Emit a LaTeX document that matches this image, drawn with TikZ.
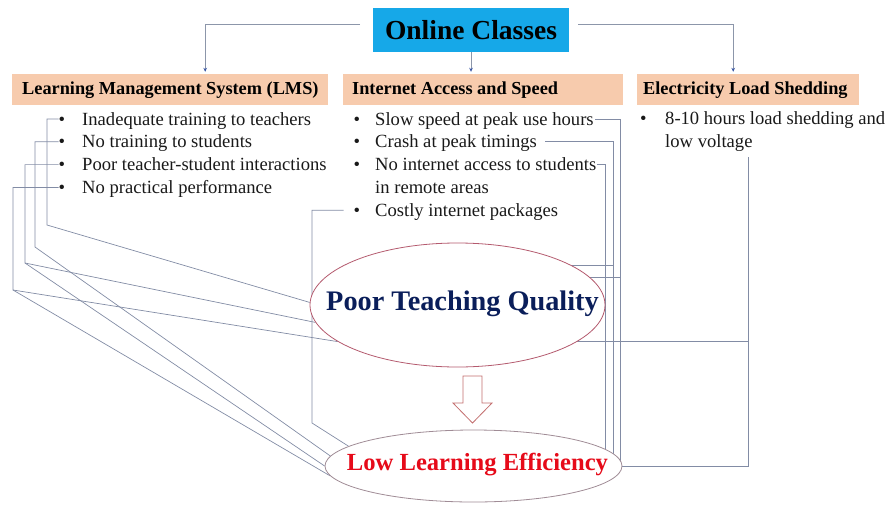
\documentclass[tikz,border=0pt]{standalone}
\usepackage{fontspec}
\setmainfont{Liberation Serif}
\usetikzlibrary{arrows.meta,backgrounds,shapes.geometric}
\definecolor{ocblue}{RGB}{22,168,232}
\definecolor{peach}{RGB}{247,203,173}
\definecolor{connc}{RGB}{130,140,165}
\definecolor{topc}{RGB}{140,150,170}
\definecolor{tipblue}{RGB}{55,85,165}
\definecolor{navytxt}{RGB}{10,30,90}
\definecolor{redtxt}{RGB}{230,10,25}
\definecolor{ptqc}{RGB}{180,90,110}
\definecolor{llec}{RGB}{160,140,150}
\definecolor{arrc}{RGB}{195,110,110}
\definecolor{bodytxt}{RGB}{25,25,25}
\begin{document}
\begin{tikzpicture}[x=1pt,y=-1pt,
  hdr/.style={fill=peach, anchor=west, minimum height=31pt, inner sep=0pt},
  hdrtxt/.style={anchor=west, inner sep=0pt, text height=12.5pt, text depth=2pt,
    font=\fontsize{18.3}{22}\selectfont\bfseries, text=black},
  bul/.style={inner sep=0pt, text height=12pt, text depth=0pt, font=\fontsize{18.6}{22}\selectfont, text=bodytxt},
  item/.style={bul, anchor=west},
  link/.style={draw=connc, line width=0.7pt},
  toplink/.style={draw=topc, line width=0.8pt, -{Stealth[length=4pt,width=3.6pt,color=tipblue]}, shorten >=2pt},
  oval/.style={ellipse, inner sep=0pt, fill=white, line width=0.8pt}
]
\useasboundingbox (0,0) rectangle (887,504);

% title
\node[fill=ocblue, minimum width=196pt, minimum height=44pt, inner sep=0pt,
      font=\fontsize{27.5}{30}\selectfont\bfseries] (oc) at (471,30) {Online Classes};

% headers
\node[hdr, minimum width=316pt] (lms) at (12,89.5) {};
\node[hdrtxt] (lmst) at (22,89.5) {Learning Management System (LMS)};
\node[hdr, minimum width=280pt] (inet) at (343,89.5) {};
\node[hdrtxt] (inett) at (352,89.5) {Internet Access and Speed};
\node[hdr, minimum width=222pt] (elec) at (637,89.5) {};
\node[hdrtxt] (elect) at (643,89.5) {Electricity Load Shedding};

% LMS items
\node[bul] (lb1) at (62,119) {•};   \node[item] (lt1) at (82,119) {Inadequate training to teachers};
\node[bul] (lb2) at (62,141.8) {•}; \node[item] (lt2) at (82,141.8) {No training to students};
\node[bul] (lb3) at (62,164.6) {•}; \node[item] (lt3) at (82,164.6) {Poor teacher-student interactions};
\node[bul] (lb4) at (62,187.4) {•}; \node[item] (lt4) at (82,187.4) {No practical performance};

% Internet items
\node[bul] (ib1) at (357,119) {•};   \node[item] (it1) at (375,119) {Slow speed at peak use hours};
\node[bul] (ib2) at (357,141.8) {•}; \node[item] (it2) at (375,141.8) {Crash at peak timings};
\node[bul] (ib3) at (357,164.6) {•}; \node[item] (it3) at (375,164.6) {No internet access to students};
\node[item] (it3b) at (375,187.4) {in remote areas};
\node[bul] (ib5) at (357,210.2) {•}; \node[item] (it5) at (375,210.2) {Costly internet packages};

% Electricity items
\node[bul] (eb1) at (643.5,118.5) {•}; \node[item] (et1) at (665,118.5) {8-10 hours load shedding and};
\node[item] (et2) at (665,141.3) {low voltage};

% ellipses
\node[oval, draw=ptqc, minimum width=295pt, minimum height=124pt] (ptq) at (457.5,305) {};
\node[inner sep=0pt, anchor=base, text=navytxt, font=\fontsize{28.3}{30}\selectfont\bfseries]
  (ptqt) at (462.5,310) {Poor Teaching Quality};
\node[oval, draw=llec, minimum width=297pt, minimum height=72pt] (lle) at (473.5,466) {};
\node[inner sep=0pt, anchor=base, text=redtxt, font=\fontsize{24.6}{28}\selectfont\bfseries]
  (llet) at (477.5,470) {Low Learning Efficiency};

% block arrow
\draw[arrc, line width=0.8pt, fill=white] (463,376) -- (482,376) -- (482,403) -- (492,403)
  -- (472.5,423) -- (453,403) -- (463,403) -- cycle;

\begin{scope}[on background layer]
% top connectors
\coordinate (ocL) at (360,24);
\coordinate (ocR) at (578,24);
\draw[toplink] (ocL) -| ([xshift=35pt]lms.north);
\draw[toplink] (oc.south) -- (oc.south |- inet.north);
\draw[toplink] (ocR) -| ([xshift=-15pt]elec.north);

% LMS connectors
\coordinate (cA) at (47,225);
\coordinate (cB) at (35,247);
\coordinate (cC) at (25,263);
\coordinate (cD) at (13,290);
\draw[link] (lb1.west) -| (cA) -- (ptq.179);
\draw[link] (lb2.west) -| (cB) -- (lle.176);
\draw[link] (lb3.west) -| (cC) -- (ptq.187);
\draw[link] (cC) -- (lle.180);
\draw[link] (lb4.west) -| (cD) -- (ptq.197);
\draw[link] (cD) -- (lle.184);

% Internet connectors
\coordinate (vS) at (620,466);
\coordinate (vC) at (613,466);
\coordinate (vN) at (605,466);
\draw[link] ([xshift=1.5pt]it1.east) -| (vS);
\draw[link] ([xshift=8pt]it2.east) -| (vC);
\draw[link] ([xshift=1pt]it3.east) -| (vN);
\coordinate (hS) at (620,277);
\coordinate (hC) at (613,265);
\draw[link] (hS) -- (hS -| ptq.center);
\draw[link] (hC) -- (hC -| ptq.center);
\coordinate (cE) at (312,423);
\draw[link, shorten <=10pt] (ib5.west) -| (cE) -- (lle.171);

% Electricity connectors
\coordinate (eT) at (748,157);
\coordinate (eM) at (748,341);
\draw[link] (eT) -- (eT |- lle.east) -- (lle.east);
\draw[link] (eM) -- (eM -| ptq.center);
\end{scope}
\end{tikzpicture}
\end{document}
